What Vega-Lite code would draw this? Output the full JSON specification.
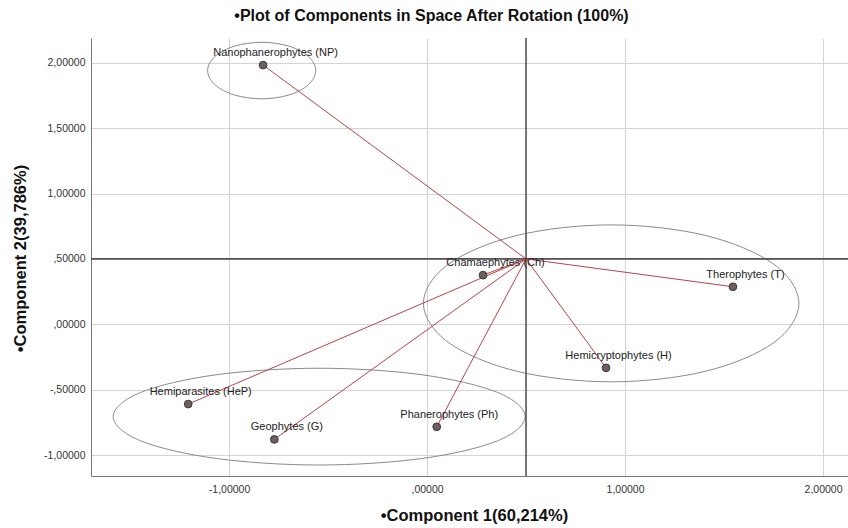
{
  "$schema": "https://vega.github.io/schema/vega-lite/v6.json",
  "width": 757,
  "height": 438,
  "autosize": {"type": "none"},
  "padding": {"left": 91, "top": 38, "right": 0, "bottom": 52},
  "background": "white",
  "title": {
    "text": "•Plot of Components in Space After Rotation (100%)",
    "font": "Liberation Sans",
    "fontSize": 16,
    "fontWeight": "bold",
    "color": "#111",
    "anchor": "middle",
    "dx": -38,
    "offset": 13
  },
  "config": {
    "view": {"stroke": null},
    "axis": {
      "labelFont": "Liberation Sans",
      "labelFontSize": 10.5,
      "labelColor": "#333",
      "titleFont": "Liberation Sans",
      "titleFontSize": 16.5,
      "titleFontWeight": "bold",
      "titleColor": "#111",
      "gridColor": "#d4d4d4",
      "gridWidth": 1,
      "domainColor": "#777",
      "domainWidth": 1,
      "ticks": false
    }
  },
  "datasets": {
    "comps": [
      {"name": "Nanophanerophytes (NP)", "x": -0.828, "y": 1.982},
      {"name": "Chamaephytes (Ch)", "x": 0.283, "y": 0.376},
      {"name": "Therophytes (T)", "x": 1.545, "y": 0.287},
      {"name": "Hemicryptophytes (H)", "x": 0.904, "y": -0.333},
      {"name": "Hemiparasites (HeP)", "x": -1.206, "y": -0.610},
      {"name": "Geophytes (G)", "x": -0.771, "y": -0.880},
      {"name": "Phanerophytes (Ph)", "x": 0.049, "y": -0.784}
    ],
    "ellipses": [
      {"grp": "A", "ord": 0, "x": -0.562, "y": 1.94},
      {"grp": "A", "ord": 1, "x": -0.599, "y": 2.048},
      {"grp": "A", "ord": 2, "x": -0.698, "y": 2.127},
      {"grp": "A", "ord": 3, "x": -0.835, "y": 2.156},
      {"grp": "A", "ord": 4, "x": -0.972, "y": 2.127},
      {"grp": "A", "ord": 5, "x": -1.071, "y": 2.048},
      {"grp": "A", "ord": 6, "x": -1.108, "y": 1.94},
      {"grp": "A", "ord": 7, "x": -1.071, "y": 1.832},
      {"grp": "A", "ord": 8, "x": -0.972, "y": 1.753},
      {"grp": "A", "ord": 9, "x": -0.835, "y": 1.724},
      {"grp": "A", "ord": 10, "x": -0.698, "y": 1.753},
      {"grp": "A", "ord": 11, "x": -0.599, "y": 1.832},
      {"grp": "B", "ord": 0, "x": 1.878, "y": 0.16},
      {"grp": "B", "ord": 1, "x": 1.751, "y": 0.46},
      {"grp": "B", "ord": 2, "x": 1.404, "y": 0.68},
      {"grp": "B", "ord": 3, "x": 0.93, "y": 0.76},
      {"grp": "B", "ord": 4, "x": 0.456, "y": 0.68},
      {"grp": "B", "ord": 5, "x": 0.109, "y": 0.46},
      {"grp": "B", "ord": 6, "x": -0.018, "y": 0.16},
      {"grp": "B", "ord": 7, "x": 0.109, "y": -0.14},
      {"grp": "B", "ord": 8, "x": 0.456, "y": -0.36},
      {"grp": "B", "ord": 9, "x": 0.93, "y": -0.44},
      {"grp": "B", "ord": 10, "x": 1.404, "y": -0.36},
      {"grp": "B", "ord": 11, "x": 1.751, "y": -0.14},
      {"grp": "C", "ord": 0, "x": 0.495, "y": -0.706},
      {"grp": "C", "ord": 1, "x": 0.356, "y": -0.521},
      {"grp": "C", "ord": 2, "x": -0.025, "y": -0.386},
      {"grp": "C", "ord": 3, "x": -0.545, "y": -0.336},
      {"grp": "C", "ord": 4, "x": -1.065, "y": -0.386},
      {"grp": "C", "ord": 5, "x": -1.446, "y": -0.521},
      {"grp": "C", "ord": 6, "x": -1.585, "y": -0.706},
      {"grp": "C", "ord": 7, "x": -1.446, "y": -0.891},
      {"grp": "C", "ord": 8, "x": -1.065, "y": -1.026},
      {"grp": "C", "ord": 9, "x": -0.545, "y": -1.076},
      {"grp": "C", "ord": 10, "x": -0.025, "y": -1.026},
      {"grp": "C", "ord": 11, "x": 0.356, "y": -0.891}
    ]
  },
  "layer": [
    {
      "data": {"name": "ellipses"},
      "mark": {"type": "line", "interpolate": "cardinal-closed", "color": "#8a8a8a", "strokeWidth": 1, "clip": true},
      "encoding": {
        "x": {
          "field": "x", "type": "quantitative",
          "scale": {"domain": [-1.697, 2.126], "nice": false, "zero": false},
          "axis": {
            "title": "•Component 1(60,214%)",
            "values": [-1, 0, 1, 2],
            "labelExpr": "replace(replace(replace(format(datum.value, '.5f'), '−', '-'), regexp('^(-?)0[.]'), '$1.'), '.', ',')",
            "labelPadding": 8,
            "titleX": 383,
            "titleY": 39,
            "titleAnchor": "middle",
            "titleBaseline": "middle"
          }
        },
        "y": {
          "field": "y", "type": "quantitative",
          "scale": {"domain": [-1.160, 2.189], "nice": false, "zero": false},
          "axis": {
            "title": "•Component 2(39,786%)",
            "values": [-1, -0.5, 0, 0.5, 1, 1.5, 2],
            "labelExpr": "replace(replace(replace(format(datum.value, '.5f'), '−', '-'), regexp('^(-?)0[.]'), '$1.'), '.', ',')",
            "labelPadding": 6,
            "titleX": -71,
            "titleY": 220,
            "titleAngle": -90,
            "titleAnchor": "middle",
            "titleBaseline": "middle"
          }
        },
        "detail": {"field": "grp"},
        "order": {"field": "ord", "type": "quantitative"}
      }
    },
    {
      "data": {"values": [{"ref": 0.5}]},
      "mark": {"type": "rule", "color": "#555", "strokeWidth": 1.6},
      "encoding": {"x": {"field": "ref", "type": "quantitative"}}
    },
    {
      "data": {"values": [{"ref": 0.5}]},
      "mark": {"type": "rule", "color": "#555", "strokeWidth": 1.6},
      "encoding": {"y": {"field": "ref", "type": "quantitative"}}
    },
    {
      "data": {"name": "comps"},
      "mark": {"type": "rule", "color": "#b8434a", "strokeWidth": 1},
      "encoding": {
        "x": {"field": "x", "type": "quantitative"},
        "y": {"field": "y", "type": "quantitative"},
        "x2": {"datum": 0.5},
        "y2": {"datum": 0.5}
      }
    },
    {
      "data": {"name": "comps"},
      "mark": {"type": "point", "filled": true, "size": 60, "color": "#6e5f5f", "stroke": "#3a3a3a", "strokeWidth": 1, "opacity": 1},
      "encoding": {
        "x": {"field": "x", "type": "quantitative"},
        "y": {"field": "y", "type": "quantitative"}
      }
    },
    {
      "data": {"name": "comps"},
      "mark": {"type": "text", "font": "Liberation Sans", "fontSize": 11, "color": "#222", "align": "center", "baseline": "middle", "dx": 12.5, "dy": -12},
      "encoding": {
        "x": {"field": "x", "type": "quantitative"},
        "y": {"field": "y", "type": "quantitative"},
        "text": {"field": "name"}
      }
    }
  ]
}
